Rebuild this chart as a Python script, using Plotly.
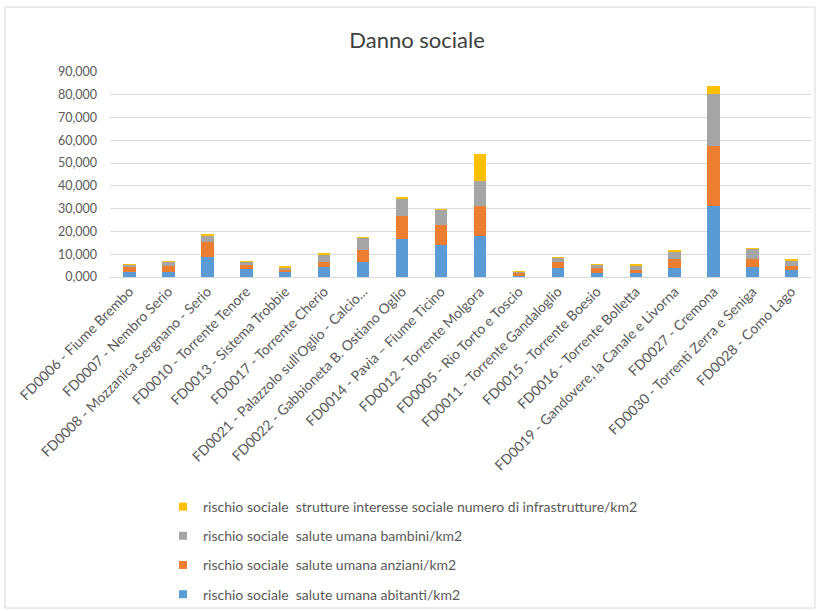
import plotly.graph_objects as go

categories = [
    "FD0006 - Fiume Brembo",
    "FD0007 - Nembro Serio",
    "FD0008 - Mozzanica Sergnano - Serio",
    "FD0010 - Torrente Tenore",
    "FD0013 - Sistema Trobbie",
    "FD0017 - Torrente Cherio",
    "FD0021 - Palazzolo sull'Oglio - Calcio...",
    "FD0022 - Gabbioneta B. Ostiano Oglio",
    "FD0014 - Pavia – Fiume Ticino",
    "FD0012 - Torrente Molgora",
    "FD0005 - Rio Torto e Toscio",
    "FD0011 - Torrente Gandaloglio",
    "FD0015 - Torrente Boesio",
    "FD0016 - Torrente Bolletta",
    "FD0019 - Gandovere, la Canale e Livorna",
    "FD0027 - Cremona",
    "FD0030 - Torrenti Zerra e Seniga",
    "FD0028 - Como Lago",
]

abitanti = [2.0, 2.4, 9.0, 3.5, 2.0, 4.2, 6.6, 16.7, 14.2, 18.1, 0.4, 3.9, 1.8, 1.7, 3.9, 31.0, 4.2, 2.9]
anziani = [2.4, 2.3, 6.2, 1.6, 1.2, 2.5, 5.4, 10.3, 8.7, 12.9, 1.4, 2.5, 2.1, 1.5, 4.1, 26.7, 3.7, 1.8]
bambini = [0.9, 1.9, 2.9, 1.7, 1.1, 3.3, 5.3, 7.6, 6.8, 11.2, 0.4, 2.0, 1.7, 1.7, 3.4, 22.7, 4.4, 2.6]
strutture = [0.2, 0.3, 0.5, 0.1, 0.4, 0.2, 0.2, 0.5, 0.1, 11.9, 0.05, 0.1, 0.1, 0.8, 0.3, 3.5, 0.4, 0.3]

scale = 1000  # values in thousands

series_names = [
    "rischio sociale\u00a0 salute umana abitanti/km2",
    "rischio sociale\u00a0 salute umana anziani/km2",
    "rischio sociale\u00a0 salute umana bambini/km2",
    "rischio sociale\u00a0 strutture interesse sociale numero di infrastrutture/km2",
]
series_values = [abitanti, anziani, bambini, strutture]
series_colors = ["#5B9BD5", "#ED7D31", "#A5A5A5", "#FFC000"]

ytick_vals = [0, 10000, 20000, 30000, 40000, 50000, 60000, 70000, 80000, 90000]
ytick_text = ["0,000", "10,000", "20,000", "30,000", "40,000", "50,000", "60,000", "70,000", "80,000", "90,000"]

fig = go.Figure()
for i, (name, vals, col) in enumerate(zip(series_names, series_values, series_colors)):
    fig.add_trace(go.Bar(
        x=categories,
        y=[v * scale for v in vals],
        name=name,
        marker=dict(color=col, line=dict(width=0)),
        showlegend=False,
        legendgroup=f"g{i}",
    ))
# legend entries with small square keys (Excel style)
for i, (name, col) in enumerate(zip(series_names, series_colors)):
    fig.add_trace(go.Scatter(
        x=[None], y=[None],
        mode="markers",
        name=name,
        marker=dict(symbol="square", size=8, color=col),
        legendgroup=f"g{i}",
        legendrank=100 - i,
    ))

FONT = "Lato, 'Open Sans', sans-serif"
L, R, T, B = 110, 10, 72, 334
W, H = 821, 611
pw = W - L - R
ph = H - T - B

def px_x(x):
    return (x - L) / pw

def px_y(y):
    return (H - B - y) / ph

fig.update_layout(
    width=W, height=H,
    margin=dict(l=L, r=R, t=T, b=B, autoexpand=False),
    barmode="stack",
    bargap=0.68,
    paper_bgcolor="white",
    plot_bgcolor="white",
    font=dict(family=FONT, color="#595959", size=12),
    title=dict(
        text="Danno sociale",
        x=0.508, xanchor="center",
        y=1 - 40 / H, yanchor="middle",
        font=dict(family=FONT, size=22, color="#404040"),
    ),
    xaxis=dict(
        tickangle=-45,
        tickfont=dict(size=14, color="#595959"),
        showgrid=False,
        showline=True,
        linecolor="#d9d9d9",
        linewidth=1,
        ticks="",
        range=[-0.5, len(categories) - 0.5],
    ),
    yaxis=dict(
        range=[0, 90000],
        tickvals=ytick_vals,
        ticktext=ytick_text,
        showgrid=True,
        gridcolor="#d9d9d9",
        gridwidth=1,
        zeroline=False,
        showline=False,
        ticks="",
        ticklabelstandoff=12,
        tickfont=dict(size=12.5, color="#595959"),
    ),
    legend=dict(
        orientation="v",
        traceorder="grouped",
        tracegroupgap=8,
        xref="container", yref="container",
        x=163 / W, xanchor="left",
        y=1 - 491 / H, yanchor="top",
        font=dict(size=14, color="#595959"),
        itemwidth=30,
        bgcolor="rgba(0,0,0,0)",
    ),
    showlegend=True,
    shapes=[dict(
        type="rect", xref="paper", yref="paper",
        x0=px_x(5), x1=px_x(815), y0=px_y(608), y1=px_y(7),
        line=dict(color="#d9d9d9", width=1),
        fillcolor="rgba(0,0,0,0)",
        layer="below",
    )],
)

fig.write_html(
    "out.html",
    config={"displayModeBar": False},
    post_script="document.body.style.margin='0';",
)
